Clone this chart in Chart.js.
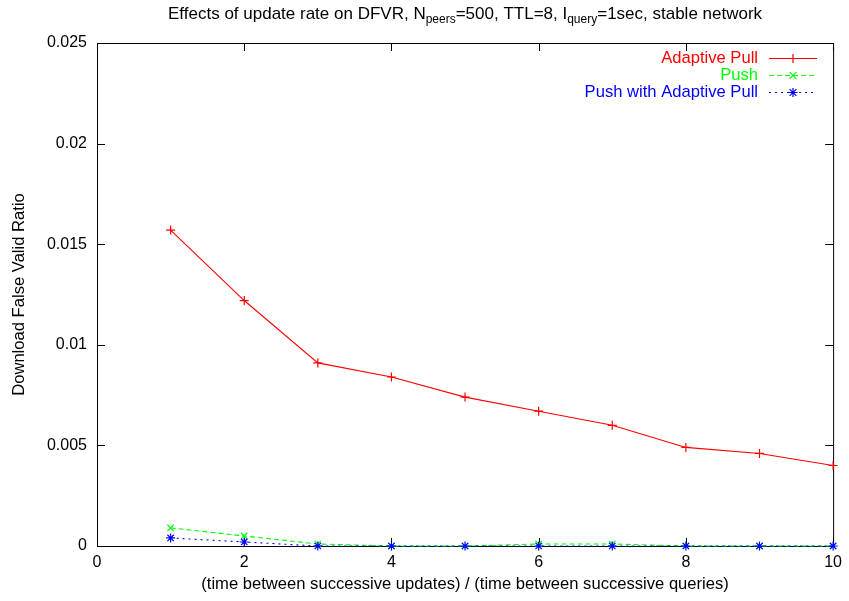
<!DOCTYPE html>
<html>
<head>
<meta charset="utf-8">
<script src="https://cdn.jsdelivr.net/npm/chart.js@4.4.0/dist/chart.umd.min.js"></script>
<style>
  html, body { margin: 0; padding: 0; background: #fff; }
  #wrap { width: 849px; height: 601px; position: relative; }
</style>
</head>
<body>
<div id="wrap"><canvas id="chart" width="849" height="601"></canvas></div>
<script>
/* ── Data ────────────────────────────────────────────────────── */
const xValues       = [1, 2, 3, 4, 5, 6, 7, 8, 9, 10];
const adaptivePull  = [0.0157, 0.0122, 0.0091, 0.0084, 0.0074, 0.0067, 0.0060, 0.0049, 0.0046, 0.0040];
const push          = [0.0009, 0.0005, 0.0001, 0.0, 0.0, 0.0001, 0.0001, 0.0, 0.0, 0.0];
const pushAdaptive  = [0.0004, 0.0002, 0.0, 0.0, 0.0, 0.0, 0.0, 0.0, 0.0, 0.0];
const seriesNames   = ['Adaptive Pull', 'Push', 'Push with Adaptive Pull'];
const yTickValues   = [0, 0.005, 0.01, 0.015, 0.02, 0.025];
const xTickValues   = [0, 2, 4, 6, 8, 10];

const FONT = "'Liberation Sans', Arial, sans-serif";
const FS = 16;

const toPts = (arr) => xValues.map((x, i) => ({ x, y: arr[i] }));

/* ── Gnuplot-ish frame: box border with inward ticks ─────────── */
const framePlugin = {
  id: 'frame',
  beforeDatasetsDraw(chart) {
    const { ctx, chartArea: a, scales: { x, y } } = chart;
    ctx.save();
    ctx.strokeStyle = '#000';
    ctx.lineWidth = 1;
    ctx.strokeRect(a.left + 0.5, a.top + 0.5, a.right - a.left, a.bottom - a.top);
    const tl = 8;
    ctx.beginPath();
    xTickValues.forEach(v => {
      const px = Math.round(x.getPixelForValue(v)) + 0.5;
      ctx.moveTo(px, a.bottom); ctx.lineTo(px, a.bottom - tl);
      ctx.moveTo(px, a.top);    ctx.lineTo(px, a.top + tl);
    });
    yTickValues.forEach(v => {
      const py = Math.round(y.getPixelForValue(v)) + 0.5;
      ctx.moveTo(a.left, py);  ctx.lineTo(a.left + tl, py);
      ctx.moveTo(a.right, py); ctx.lineTo(a.right - tl, py);
    });
    ctx.stroke();
    ctx.restore();
  }
};

/* ── Title with subscripts ───────────────────────────────────── */
const titlePlugin = {
  id: 'subTitle',
  afterDraw(chart) {
    const { ctx, chartArea: a } = chart;
    const parts = [
      ['Effects of update rate on DFVR, N', 0],
      ['peers', 1],
      ['=500, TTL=8, I', 0],
      ['query', 1],
      ['=1sec, stable network', 0],
    ];
    const big = `17px ${FONT}`, small = `12px ${FONT}`;
    ctx.save();
    let total = 0;
    parts.forEach(([t, s]) => { ctx.font = s ? small : big; total += ctx.measureText(t).width; });
    let cx = (a.left + a.right) / 2 - total / 2;
    const base = 19;
    ctx.fillStyle = '#000';
    ctx.textBaseline = 'alphabetic';
    parts.forEach(([t, s]) => {
      ctx.font = s ? small : big;
      ctx.fillText(t, cx, s ? base + 4 : base);
      cx += ctx.measureText(t).width;
    });
    ctx.restore();
  }
};

/* ── Legend drawn inside top right, gnuplot style ────────────── */
function drawMarker(ctx, style, cx, cy, r) {
  ctx.beginPath();
  if (style === 'cross' || style === 'star') {
    ctx.moveTo(cx - r, cy); ctx.lineTo(cx + r, cy);
    ctx.moveTo(cx, cy - r); ctx.lineTo(cx, cy + r);
  }
  if (style === 'crossRot' || style === 'star') {
    const d = r * 0.75;
    ctx.moveTo(cx - d, cy - d); ctx.lineTo(cx + d, cy + d);
    ctx.moveTo(cx - d, cy + d); ctx.lineTo(cx + d, cy - d);
  }
  ctx.stroke();
}

const legendPlugin = {
  id: 'gpLegend',
  afterDraw(chart) {
    const { ctx } = chart;
    ctx.save();
    ctx.font = `16.6px ${FONT}`;
    ctx.textAlign = 'right';
    ctx.textBaseline = 'middle';
    chart.data.datasets.forEach((ds, i) => {
      const yy = 58 + i * 17;
      ctx.fillStyle = ds.borderColor;
      ctx.fillText(ds.label, 758, yy);
      ctx.strokeStyle = ds.borderColor;
      ctx.lineWidth = 1.2;
      ctx.setLineDash(ds.borderDash || []);
      ctx.beginPath();
      ctx.moveTo(769, yy + 0.5); ctx.lineTo(817, yy + 0.5);
      ctx.stroke();
      ctx.setLineDash([]);
      drawMarker(ctx, ds.pointStyle, 793, yy + 0.5, 4.5);
    });
    ctx.restore();
  }
};

const mkSet = (label, data, color, style, dash, order) => ({
  label,
  data: toPts(data),
  borderColor: color,
  backgroundColor: color,
  borderWidth: 1.1,
  borderDash: dash,
  pointStyle: style,
  pointRadius: 4.5,
  pointBorderWidth: 1.2,
  pointHoverRadius: 4.5,
  tension: 0,
  fill: false,
  clip: false,
  order,
});

new Chart(document.getElementById('chart').getContext('2d'), {
  type: 'line',
  data: {
    datasets: [
      mkSet(seriesNames[0], adaptivePull, '#ff0000', 'cross', [], 2),
      mkSet(seriesNames[1], push, '#00ff00', 'crossRot', [5, 3], 1),
      mkSet(seriesNames[2], pushAdaptive, '#0000ff', 'star', [2, 4], 0),
    ],
  },
  options: {
    responsive: false,
    animation: false,
    layout: { padding: { top: 43, right: 9, left: 0, bottom: 0 } },
    plugins: { legend: { display: false }, tooltip: { enabled: false }, title: { display: false } },
    scales: {
      x: {
        type: 'linear',
        min: 0, max: 10,
        afterFit: (s) => { s.height = 55; },
        afterBuildTicks: (s) => { s.ticks = xTickValues.map(v => ({ value: v })); },
        grid: { display: false, drawTicks: false },
        border: { display: false },
        ticks: { color: '#000', padding: 7, font: { family: FONT, size: FS } },
        title: {
          display: true,
          text: '(time between successive updates) / (time between successive queries)',
          color: '#000',
          font: { family: FONT, size: 16.6 },
          padding: { top: 0, bottom: 7 },
        },
      },
      y: {
        type: 'linear',
        min: 0, max: 0.025,
        afterFit: (s) => { s.width = 97; },
        afterBuildTicks: (s) => { s.ticks = yTickValues.map(v => ({ value: v })); },
        grid: { display: false, drawTicks: false },
        border: { display: false },
        ticks: {
          color: '#000', padding: 10, font: { family: FONT, size: FS },
          callback: (v) => String(parseFloat(Number(v).toFixed(3))),
        },
        title: {
          display: true,
          text: 'Download False Valid Ratio',
          color: '#000',
          font: { family: FONT, size: 16.6 },
          padding: { top: 9, bottom: 0 },
        },
      },
    },
  },
  plugins: [framePlugin, titlePlugin, legendPlugin],
});
</script>
</body>
</html>
